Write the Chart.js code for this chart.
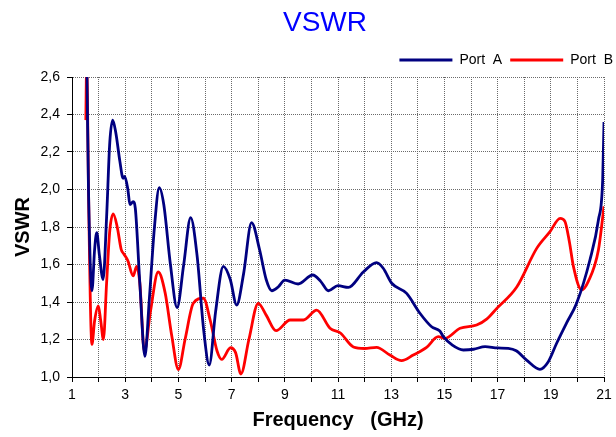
<!DOCTYPE html>
<html>
<head>
<meta charset="utf-8">
<script src="https://cdn.jsdelivr.net/npm/chart.js@4.4.1/dist/chart.umd.min.js"></script>
<style>
    html, body { margin: 0; padding: 0; background: #fff; overflow: hidden; }
    #wrap { width: 621px; height: 437px; }
</style>
</head>
<body>
<div id="wrap"><canvas id="myChart" width="621" height="437"></canvas></div>
<script>
// values
var seriesNames = ['Port  A', 'Port  B'];

var freqA = [1.55, 1.62, 1.75, 1.85, 1.93, 2.03, 2.17, 2.3, 2.42, 2.53, 2.65, 2.8, 2.92, 2.98, 3.1, 3.18, 3.3, 3.38,
    3.55, 3.74, 3.9, 4.1, 4.28, 4.45, 4.7, 4.95, 5.2, 5.46, 5.7, 5.95, 6.16, 6.4, 6.69, 6.95, 7.19, 7.45, 7.75,
    8.05, 8.3, 8.51, 8.75, 9.0, 9.5, 10.05, 10.35, 10.64, 11.0, 11.39, 11.95, 12.45, 12.7, 13.02, 13.58, 14.08,
    14.52, 14.83, 14.96, 15.3, 15.71, 16.1, 16.53, 17.0, 17.4, 17.7, 18.09, 18.59, 18.9, 19.22, 19.6, 19.97,
    20.47, 20.79, 20.95, 21.0];
var vswrA = [2.75, 2.0, 1.46, 1.68, 1.77, 1.65, 1.52, 1.85, 2.25, 2.37, 2.3, 2.15, 2.06, 2.07, 2.0, 1.92, 1.935, 1.9,
    1.5, 1.11, 1.4, 1.8, 2.01, 1.92, 1.6, 1.37, 1.6, 1.85, 1.65, 1.25, 1.064, 1.35, 1.59, 1.52, 1.384, 1.55, 1.823,
    1.68, 1.52, 1.46, 1.48, 1.517, 1.496, 1.544, 1.51, 1.46, 1.487, 1.478, 1.56, 1.61, 1.58, 1.50, 1.446, 1.34,
    1.268, 1.245, 1.215, 1.17, 1.144, 1.148, 1.162, 1.155, 1.153, 1.14, 1.09, 1.041, 1.08, 1.18, 1.29, 1.393,
    1.624, 1.837, 2.05, 2.36];

var freqB = [1.52, 1.55, 1.58, 1.62, 1.75, 1.85, 1.99, 2.08, 2.18, 2.3, 2.42, 2.55, 2.7, 2.85, 2.95, 3.1, 3.3, 3.43,
    3.55, 3.72, 3.95, 4.24, 4.5, 4.75, 5.0, 5.25, 5.56, 5.94, 6.2, 6.45, 6.63, 6.96, 7.15, 7.35, 7.65, 8.0, 8.3,
    8.67, 9.2, 9.7, 10.2, 10.7, 11.08, 11.58, 12.0, 12.45, 12.95, 13.39, 13.83, 14.33, 14.77, 15.02, 15.59,
    16.21, 16.6, 16.97, 17.72, 18.47, 18.97, 19.35, 19.53, 19.7, 19.85, 20.16, 20.41, 20.79, 21.0];
var vswrB = [2.37, 2.65, 2.5, 2.0, 1.174, 1.3, 1.379, 1.3, 1.2, 1.5, 1.78, 1.87, 1.8, 1.68, 1.656, 1.62, 1.539, 1.59,
    1.5, 1.135, 1.35, 1.56, 1.45, 1.22, 1.04, 1.2, 1.393, 1.42, 1.3, 1.14, 1.094, 1.156, 1.13, 1.016, 1.2, 1.393,
    1.33, 1.247, 1.304, 1.304, 1.357, 1.26, 1.236, 1.16, 1.152, 1.158, 1.117, 1.087, 1.117, 1.158, 1.215, 1.206,
    1.26, 1.277, 1.31, 1.366, 1.48, 1.686, 1.775, 1.846, 1.83, 1.72, 1.59, 1.464, 1.51, 1.677, 1.91];

var xMin = 1, xMax = 21, xStep = 1;
var yMin = 1.0, yMax = 2.6, yStep = 0.2;

function toPoints(xs, ys) {
    return xs.map(function (x, i) { return { x: x, y: ys[i] }; });
}

// chart title is drawn over the plot, a bit left of centre like the original
var titlePlugin = {
    id: 'vswrTitle',
    afterDraw: function (chart) {
        var ctx = chart.ctx;
        ctx.save();
        ctx.font = '28px "Liberation Sans", Arial, sans-serif';
        ctx.fillStyle = '#0000ff';
        ctx.textAlign = 'center';
        ctx.textBaseline = 'middle';
        ctx.fillText('VSWR', 325, 23);
        ctx.restore();
    }
};

Chart.defaults.font.family = '"Liberation Sans", Arial, sans-serif';
Chart.defaults.color = '#000';

var ctx = document.getElementById('myChart').getContext('2d');
var chart = new Chart(ctx, {
    type: 'scatter',
    data: {
        datasets: [{
            label: seriesNames[0],
            data: toPoints(freqA, vswrA),
            borderColor: '#000080',
            backgroundColor: '#000080',
            borderWidth: 2.8,
            showLine: true,
            pointRadius: 0,
            cubicInterpolationMode: 'monotone'
        }, {
            label: seriesNames[1],
            data: toPoints(freqB, vswrB),
            borderColor: '#ff0000',
            backgroundColor: '#ff0000',
            borderWidth: 2.8,
            showLine: true,
            pointRadius: 0,
            cubicInterpolationMode: 'monotone'
        }]
    },
    options: {
        responsive: false,
        animation: false,
        events: [],
        layout: { padding: { top: 45 } },
        plugins: {
            title: { display: false },
            tooltip: { enabled: false },
            legend: {
                position: 'top',
                align: 'end',
                labels: {
                    boxWidth: 53,
                    boxHeight: 3,
                    padding: 8,
                    font: { size: 14 },
                    generateLabels: function (c) {
                        var items = Chart.defaults.plugins.legend.labels.generateLabels(c);
                        items.forEach(function (it) { it.lineWidth = 0; });
                        return items;
                    }
                }
            }
        },
        scales: {
            x: {
                type: 'linear',
                min: xMin,
                max: xMax,
                afterFit: function (s) { s.height = 60; },
                ticks: {
                    stepSize: xStep,
                    autoSkip: false,
                    maxRotation: 0,
                    padding: 5,
                    font: { size: 14 },
                    callback: function (v) { return (v % 2 === 1) ? String(v) : ''; }
                },
                grid: { color: '#6a6a6a', tickColor: '#000', tickLength: 5, tickBorderDash: [] },
                border: { color: '#000', width: 1, dash: [1, 1] },
                title: {
                    display: true,
                    text: 'Frequency   (GHz)',
                    font: { size: 20, weight: 'bold' },
                    padding: { top: 2, bottom: 5 }
                }
            },
            y: {
                min: yMin,
                max: yMax,
                afterFit: function (s) { s.width = 72; },
                ticks: {
                    stepSize: yStep,
                    padding: 7,
                    font: { size: 14 },
                    callback: function (v) { return v.toFixed(1).replace('.', ','); }
                },
                grid: { color: '#6a6a6a', tickColor: '#000', tickLength: 5, tickBorderDash: [] },
                border: { color: '#000', width: 1, dash: [1, 1] },
                title: {
                    display: true,
                    text: 'VSWR',
                    font: { size: 20, weight: 'bold' },
                    padding: { top: 11, bottom: 0 }
                }
            },
            // empty right axis, only keeps the plot edge at the same place as the original
            yRight: {
                position: 'right',
                display: true,
                grid: { display: false },
                border: { display: false },
                ticks: { display: false },
                afterFit: function (s) { s.width = 17; }
            }
        }
    },
    plugins: [titlePlugin]
});
</script>
</body>
</html>
